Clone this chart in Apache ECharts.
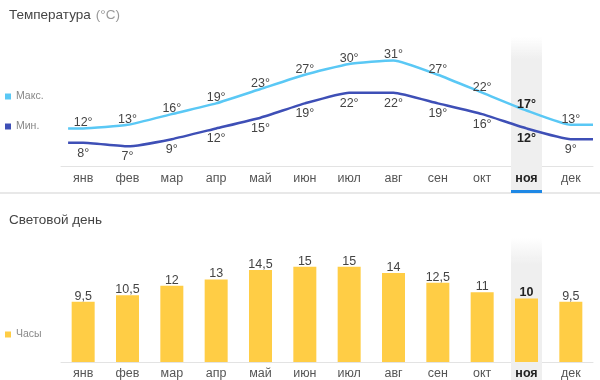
<!DOCTYPE html>
<html><head><meta charset="utf-8">
<script src="https://cdn.jsdelivr.net/npm/echarts@6/dist/echarts.min.js"></script>
<style>html,body{margin:0;padding:0;background:#fff}#c{width:600px;height:380px}</style>
</head><body><div id="c"></div>
<script>
const months = ['янв','фев','мар','апр','май','июн','июл','авг','сен','окт','ноя','дек'];
const tMax = [12,13,16,19,23,27,30,31,27,22,17,13];
const tMin = [8,7,9,12,15,19,22,22,19,16,12,9];
const daylight = [9.5,10.5,12,13,14.5,15,15,14,12.5,11,10,9.5];
const currentMonth = 'ноя';

const FONT = 'Arial, "Liberation Sans", sans-serif';
const hi = months.indexOf(currentMonth);
const cMax = '#5ac8f5', cMin = '#3e4fb6', cBar = '#ffcd45';

function lineData(arr){
  const d = arr.map((v,i)=>({value:[i,v], label: i===hi ? {fontWeight:'bold', color:'#222'} : {}}));
  d.unshift({value:[-0.34, arr[0]], label:{show:false}});
  d.push({value:[11.5, arr[arr.length-1]], label:{show:false}});
  return d;
}
const catData = months.map(m => m===currentMonth ? {value:m, textStyle:{fontWeight:'bold', color:'#222'}} : m);
const bandData = months.map((m,i)=> i===hi ? 1 : '-');

const chart = echarts.init(document.getElementById('c'), null, {renderer:'canvas'});
chart.setOption({
  animation:false,
  textStyle:{fontFamily:FONT},
  title:[
    {text:'{a|Температура} {b|(°C)}', left:4, top:1, textStyle:{fontWeight:'normal', rich:{a:{fontSize:13.5,color:'#444',fontFamily:FONT,fontWeight:'normal'},b:{fontSize:13.5,color:'#999',fontFamily:FONT,fontWeight:'normal'}}}},
    {text:'Световой день', left:4, top:208, textStyle:{fontSize:13.5,color:'#444',fontWeight:'normal',fontFamily:FONT}}
  ],
  legend:[
    {data:['Макс.','Мин.'], orient:'vertical', left:0, top:86, itemWidth:6, itemHeight:6, itemGap:19, icon:'rect',
     textStyle:{color:'#888', fontSize:10.5, fontFamily:FONT}, selectedMode:false},
    {data:['Часы'], orient:'vertical', left:0, top:324, itemWidth:6, itemHeight:6, icon:'rect',
     textStyle:{color:'#888', fontSize:10.5, fontFamily:FONT}, selectedMode:false}
  ],
  grid:[
    {left:61, right:7, top:30, height:136},
    {left:61, right:7, top:235, height:128},
    {left:61, right:7, top:37, height:156},
    {left:61, right:7, top:238, bottom:0}
  ],
  xAxis:[
    {type:'category', gridIndex:0, data:catData, boundaryGap:true,
     axisLine:{lineStyle:{color:'#e3e3e3'}}, axisTick:{show:false},
     axisLabel:{color:'#555', fontSize:12.5, margin:6, fontFamily:FONT}},
    {type:'value', gridIndex:0, min:-0.5, max:11.5, show:false},
    {type:'category', gridIndex:1, data:catData, boundaryGap:true,
     axisLine:{lineStyle:{color:'#e3e3e3'}}, axisTick:{show:false},
     axisLabel:{color:'#555', fontSize:12.5, margin:5, fontFamily:FONT}},
    {type:'category', gridIndex:2, data:months, show:false},
    {type:'category', gridIndex:3, data:months, show:false}
  ],
  yAxis:[
    {type:'value', gridIndex:0, min:1.5, max:39.5, show:false},
    {type:'value', gridIndex:1, min:0, max:20, show:false},
    {type:'value', gridIndex:2, min:0, max:1, show:false},
    {type:'value', gridIndex:3, min:0, max:1, show:false}
  ],
  series:[
    {type:'bar', xAxisIndex:3, yAxisIndex:2, data:bandData, barWidth:31, z:0, silent:true,
     itemStyle:{color:new echarts.graphic.LinearGradient(0,0,0,1,[
       {offset:0,color:'rgba(239,239,239,0)'},{offset:0.14,color:'#efefef'},
       {offset:0.979,color:'#efefef'},{offset:0.979,color:'#1e88e5'},{offset:1,color:'#1e88e5'}])}},
    {type:'bar', xAxisIndex:4, yAxisIndex:3, data:bandData, barWidth:31, z:0, silent:true,
     itemStyle:{color:new echarts.graphic.LinearGradient(0,0,0,1,[
       {offset:0,color:'rgba(239,239,239,0)'},{offset:0.18,color:'#efefef'},{offset:1,color:'#efefef'}])}},
    {name:'Макс.', type:'line', xAxisIndex:1, yAxisIndex:0, data:lineData(tMax), smooth:0.15,
     showSymbol:true, symbol:'circle', symbolSize:0.01, z:3, lineStyle:{color:cMax, width:2.5}, itemStyle:{color:cMax},
     label:{show:true, position:'top', distance:0, offset:[0,1], color:'#444', fontSize:12.5, fontFamily:FONT,
       formatter:p=>p.value[1]+'°'}},
    {name:'Мин.', type:'line', xAxisIndex:1, yAxisIndex:0, data:lineData(tMin), smooth:0.15,
     showSymbol:true, symbol:'circle', symbolSize:0.01, z:3, lineStyle:{color:cMin, width:2.5}, itemStyle:{color:cMin},
     label:{show:true, position:'bottom', distance:4, color:'#444', fontSize:12.5, fontFamily:FONT,
       formatter:p=>p.value[1]+'°'}},
    {name:'Часы', type:'bar', xAxisIndex:2, yAxisIndex:1, barWidth:23, z:3,
     data:daylight.map((v,i)=>({value:v, label: i===hi ? {fontWeight:'bold', color:'#222'} : {}})),
     itemStyle:{color:cBar},
     label:{show:true, position:'top', distance:0, offset:[0,1], color:'#444', fontSize:12.5, fontFamily:FONT,
       formatter:p=>String(p.value).replace('.',',')}}
  ],
  graphic:[
    {type:'rect', left:0, top:192, shape:{width:600, height:2}, style:{fill:'#e8e8e8'}, z:-1}
  ]
});
</script></body></html>
